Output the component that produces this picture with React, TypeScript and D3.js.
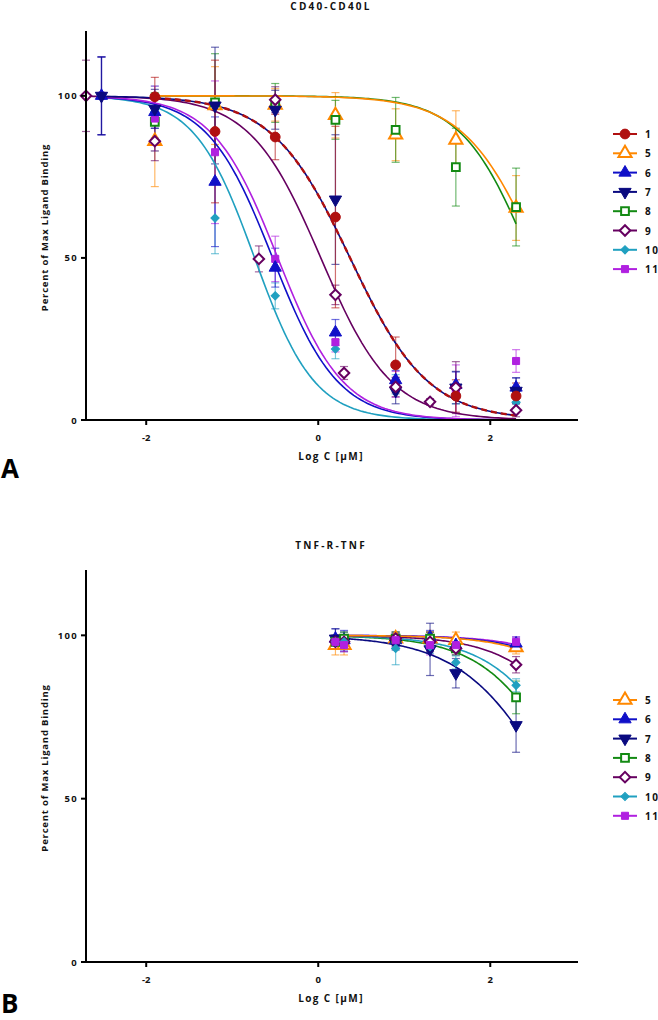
import React from "react";
import * as d3 from "d3";

// ---------- Data: chart A (CD40-CD40L) ----------
const compoundsA = ["1", "5", "6", "7", "8", "9", "10", "11"];
const xA7 = [-1.9, -1.2, -0.5, 0.2, 0.9, 1.6, 2.3];
const xA8 = [-2.52, -1.9, -1.2, -0.5, 0.2, 0.9, 1.6, 2.3];
const xA9 = [-2.7, -1.9, -0.69, -0.5, 0.2, 0.3, 0.9, 1.3, 1.6, 2.3];

const yA1 = [99.7, 89, 87.3, 62.6, 17, 7.4, 7.4];
const eA1 = [6, 22, 7, 28, 8.6, 5, 4];
const yA5 = [86, 97, 97.2, 94, 88, 86.4, 65.4];
const eA5 = [14, 12, 5, 7, 8, 9, 10];
const yA8 = [92, 98, 97.8, 92.6, 89.5, 78, 65.7];
const eA8 = [9, 15, 6, 6, 10, 12, 12];
const yA6 = [100, 95, 73.5, 47, 27, 12.3, 10.8, 10];
const eA6 = [12, 5, 20, 6, 4, 3, 4, 3];
const yA7 = [100, 96, 97, 95.7, 68, 9, 10, 9];
const eA7 = [12, 6, 18, 6, 20, 4, 5, 4];
const yA10 = [100, 95, 62.3, 38.3, 21.9, 11, 8, 5.5];
const eA10 = [12, 8, 11, 4, 3, 3, 3, 3];
const yA11 = [100, 93, 82.6, 49.7, 24, 11, 9, 18.2];
const eA11 = [12, 10, 22, 7, 3, 4, 8, 3.5];
const yA9 = [100, 86, 49.7, 98.8, 38.6, 14.5, 10.2, 5.6, 10, 3];
const eA9 = [11, 6, 4, 4, 3, 2, 3, 1, 8, 2];

// fitted curve parameters (log IC50, Hill slope, start of fitted range)
const fitA_c = [0.37, 2.57, -0.53, 0.37, 2.47, 0.03, -0.74, -0.47];
const fitA_h = [0.96, 1.0, 1.15, 0.96, 1.09, 1.06, 1.25, 1.15];
const fitA_x0 = [-1.9, -1.9, -2.52, -2.52, -1.9, -2.7, -2.52, -2.52];

// ---------- Data: chart B (TNF-R-TNF) ----------
const compoundsB = ["5", "6", "7", "8", "9", "10", "11"];
const xB = [0.2, 0.3, 0.9, 1.3, 1.6, 2.3];
const yB5 = [97, 97, 99, 99, 98.5, 96.3];
const eB5 = [3, 3, 2, 2, 2.5, 2];
const yB6 = [99, 98.5, 98.5, 99.5, 97, 97.5];
const eB6 = [3, 3, 2, 2, 2, 2];
const yB7 = [99, 98, 97.5, 95.7, 88.4, 72.5];
const eB7 = [3, 3, 2, 8, 4.5, 8.3];
const yB8 = [98, 99, 99, 99, 96, 81];
const eB8 = [2, 2, 2, 2, 2, 5];
const yB9 = [98, 98, 99, 98, 96, 91];
const eB9 = [2, 2, 2, 3, 2, 2.5];
const yB10 = [98, 98, 96, 96.5, 91.7, 84.7];
const eB10 = [2, 2, 5, 2, 2, 2];
const yB11 = [98, 97, 98.5, 97, 97, 98];
const eB11 = [2, 2, 2, 3, 2, 1.5];
const fitB_c = [3.83, 3.9, 2.81, 3.0, 3.42, 3.13, 4.0];
const fitB_h = [0.9, 0.9, 0.8, 0.9, 0.9, 0.9, 0.9];

const xTicks = [-2, 0, 2];
const yTicks = [0, 50, 100];

// ---------- Styles ----------
type Sty = { color: string; shape: string; hollow: boolean; down?: boolean; size: number };
const STY: Record<string, Sty> = {
  "1": { color: "#B01010", shape: "circle", hollow: false, size: 75 },
  "5": { color: "#FF8800", shape: "triangle", hollow: true, size: 75 },
  "6": { color: "#1010C8", shape: "triangle", hollow: false, size: 65 },
  "7": { color: "#0A0A80", shape: "triangle", hollow: false, down: true, size: 65 },
  "8": { color: "#138A13", shape: "square", hollow: true, size: 60 },
  "9": { color: "#660060", shape: "diamond", hollow: true, size: 55 },
  "10": { color: "#20A0C0", shape: "diamond", hollow: false, size: 34 },
  "11": { color: "#B020E0", shape: "square", hollow: false, size: 50 },
};

function Marker({ id, x, y }: { id: string; x: number; y: number }) {
  const s = STY[id];
  const isDia = s.shape === "diamond";
  const type = s.shape === "circle" ? d3.symbolCircle : s.shape === "triangle" ? d3.symbolTriangle : d3.symbolSquare;
  const path = d3.symbol().type(type).size(s.size)() as string;
  const rot = s.down ? " rotate(180)" : isDia ? " rotate(45)" : "";
  return (
    <path
      d={path}
      transform={`translate(${x},${y})${rot}`}
      fill={s.hollow ? "#fff" : s.color}
      stroke={s.color}
      strokeWidth={s.hollow ? 2 : 1}
    />
  );
}

const FONT = "'Open Sans', 'DejaVu Sans', sans-serif";

type Series = { id: string; xs: number[]; ys: number[]; es: number[] };
type Fit = { id: string; c: number; h: number; x0: number; dashed?: boolean };

function Panel({
  top, bottom, title, series, fits, legend, legendY0, letter, letterY,
}: {
  top: number; bottom: number; title: string; series: Series[]; fits: Fit[];
  legend: string[]; legendY0: number; letter: string; letterY: number;
}) {
  const x = d3.scaleLinear().domain([-2.7, 3.02]).range([86, 578]);
  const y = d3.scaleLinear().domain([0, 120]).range([bottom, top]);
  const line = d3.line<[number, number]>().x((d) => x(d[0])).y((d) => y(d[1]));
  const curve = (f: Fit) => {
    const pts: [number, number][] = [];
    const n = 120;
    for (let i = 0; i <= n; i++) {
      const xv = f.x0 + ((2.3 - f.x0) * i) / n;
      pts.push([xv, 100 / (1 + Math.pow(10, (xv - f.c) * f.h))]);
    }
    return line(pts) as string;
  };
  return (
    <g>
      <text x={331} y={top - 21} textAnchor="middle" fontFamily={FONT} fontWeight={700} fontSize={10} letterSpacing={2.2} fill="#111">
        {title}
      </text>
      {/* error bars */}
      {series.map((s) =>
        s.xs.map((xv, i) => (
          <g key={s.id + "e" + i} stroke={STY[s.id].color} strokeOpacity={0.6} strokeWidth={1.2}>
            <line x1={x(xv)} x2={x(xv)} y1={y(s.ys[i] + s.es[i])} y2={y(s.ys[i] - s.es[i])} />
            <line x1={x(xv) - 4} x2={x(xv) + 4} y1={y(s.ys[i] + s.es[i])} y2={y(s.ys[i] + s.es[i])} />
            <line x1={x(xv) - 4} x2={x(xv) + 4} y1={y(s.ys[i] - s.es[i])} y2={y(s.ys[i] - s.es[i])} />
          </g>
        ))
      )}
      {/* fitted curves */}
      {fits.map((f) => (
        <path key={"f" + f.id} d={curve(f)} fill="none" stroke={STY[f.id].color} strokeWidth={f.dashed ? 2.4 : 1.6} strokeDasharray={f.dashed ? "6,4" : undefined} />
      ))}
      {/* points */}
      {series.map((s) =>
        s.xs.map((xv, i) => <Marker key={s.id + "p" + i} id={s.id} x={x(xv)} y={y(s.ys[i])} />)
      )}
      {/* axes */}
      <line x1={86} x2={86} y1={y(120)} y2={bottom + 1} stroke="#000" strokeWidth={2} />
      <line x1={85} x2={578} y1={bottom} y2={bottom} stroke="#000" strokeWidth={2} />
      {yTicks.map((t) => (
        <g key={"yt" + t}>
          <line x1={81} x2={86} y1={y(t)} y2={y(t)} stroke="#000" strokeWidth={2} />
          <text x={78} y={y(t) + 3.5} textAnchor="end" fontFamily={FONT} fontWeight={700} fontSize={9.5} letterSpacing={1.3} fill="#111">
            {t}
          </text>
        </g>
      ))}
      {xTicks.map((t) => (
        <g key={"xt" + t}>
          <line x1={x(t)} x2={x(t)} y1={bottom} y2={bottom + 5} stroke="#000" strokeWidth={2} />
          <text x={x(t)} y={bottom + 21} textAnchor="middle" fontFamily={FONT} fontWeight={700} fontSize={9.5} fill="#111">
            {t}
          </text>
        </g>
      ))}
      <text x={331} y={bottom + 40} textAnchor="middle" fontFamily={FONT} fontWeight={700} fontSize={10} letterSpacing={1.4} fill="#111">
        Log C [µM]
      </text>
      <text
        transform={`translate(48,${(top + bottom) / 2 + 2}) rotate(-90)`}
        textAnchor="middle" fontFamily={FONT} fontWeight={700} fontSize={9.5} letterSpacing={0.8} fill="#111"
      >
        Percent of Max Ligand Binding
      </text>
      {/* legend */}
      {legend.map((id, i) => {
        const ly = legendY0 + i * 19.3;
        return (
          <g key={"lg" + id}>
            <line x1={613} x2={637} y1={ly} y2={ly} stroke={STY[id].color} strokeWidth={2} />
            <Marker id={id} x={625} y={ly} />
            <text x={645} y={ly + 4} fontFamily={FONT} fontWeight={700} fontSize={10} letterSpacing={1.5} fill="#111">
              {id}
            </text>
          </g>
        );
      })}
      <text x={1} y={letterY} fontFamily={FONT} fontWeight={700} fontSize={26} fill="#000">
        {letter}
      </text>
    </g>
  );
}

export default function App() {
  const seriesA: Series[] = [
    { id: "5", xs: xA7, ys: yA5, es: eA5 },
    { id: "8", xs: xA7, ys: yA8, es: eA8 },
    { id: "10", xs: xA8, ys: yA10, es: eA10 },
    { id: "11", xs: xA8, ys: yA11, es: eA11 },
    { id: "6", xs: xA8, ys: yA6, es: eA6 },
    { id: "7", xs: xA8, ys: yA7, es: eA7 },
    { id: "9", xs: xA9, ys: yA9, es: eA9 },
    { id: "1", xs: xA7, ys: yA1, es: eA1 },
  ];
  const fitIdx = [6, 2, 7, 5, 3, 0, 4, 1];
  const fitsA: Fit[] = fitIdx.map((k) => ({
    id: compoundsA[k], c: fitA_c[k], h: fitA_h[k], x0: fitA_x0[k], dashed: compoundsA[k] === "1",
  }));
  const yBs = [yB5, yB6, yB7, yB8, yB9, yB10, yB11];
  const eBs = [eB5, eB6, eB7, eB8, eB9, eB10, eB11];
  const seriesB: Series[] = compoundsB.map((id, k) => ({ id, xs: xB, ys: yBs[k], es: eBs[k] }));
  const fitsB: Fit[] = [6, 2, 3, 5, 4, 1, 0].map((k) => ({ id: compoundsB[k], c: fitB_c[k], h: fitB_h[k], x0: 0.2 }));
  return (
    <svg width={658} height={1020} style={{ position: "absolute", left: 0, top: 0, background: "#fff" }}>
      <rect width={658} height={1020} fill="#fff" />
      <Panel top={31} bottom={420} title="CD40-CD40L" series={seriesA} fits={fitsA} legend={compoundsA} legendY0={134} letter="A" letterY={478} />
      <Panel top={570} bottom={962} title="TNF-R-TNF" series={seriesB} fits={fitsB} legend={compoundsB} legendY0={700} letter="B" letterY={1013} />
    </svg>
  );
}
